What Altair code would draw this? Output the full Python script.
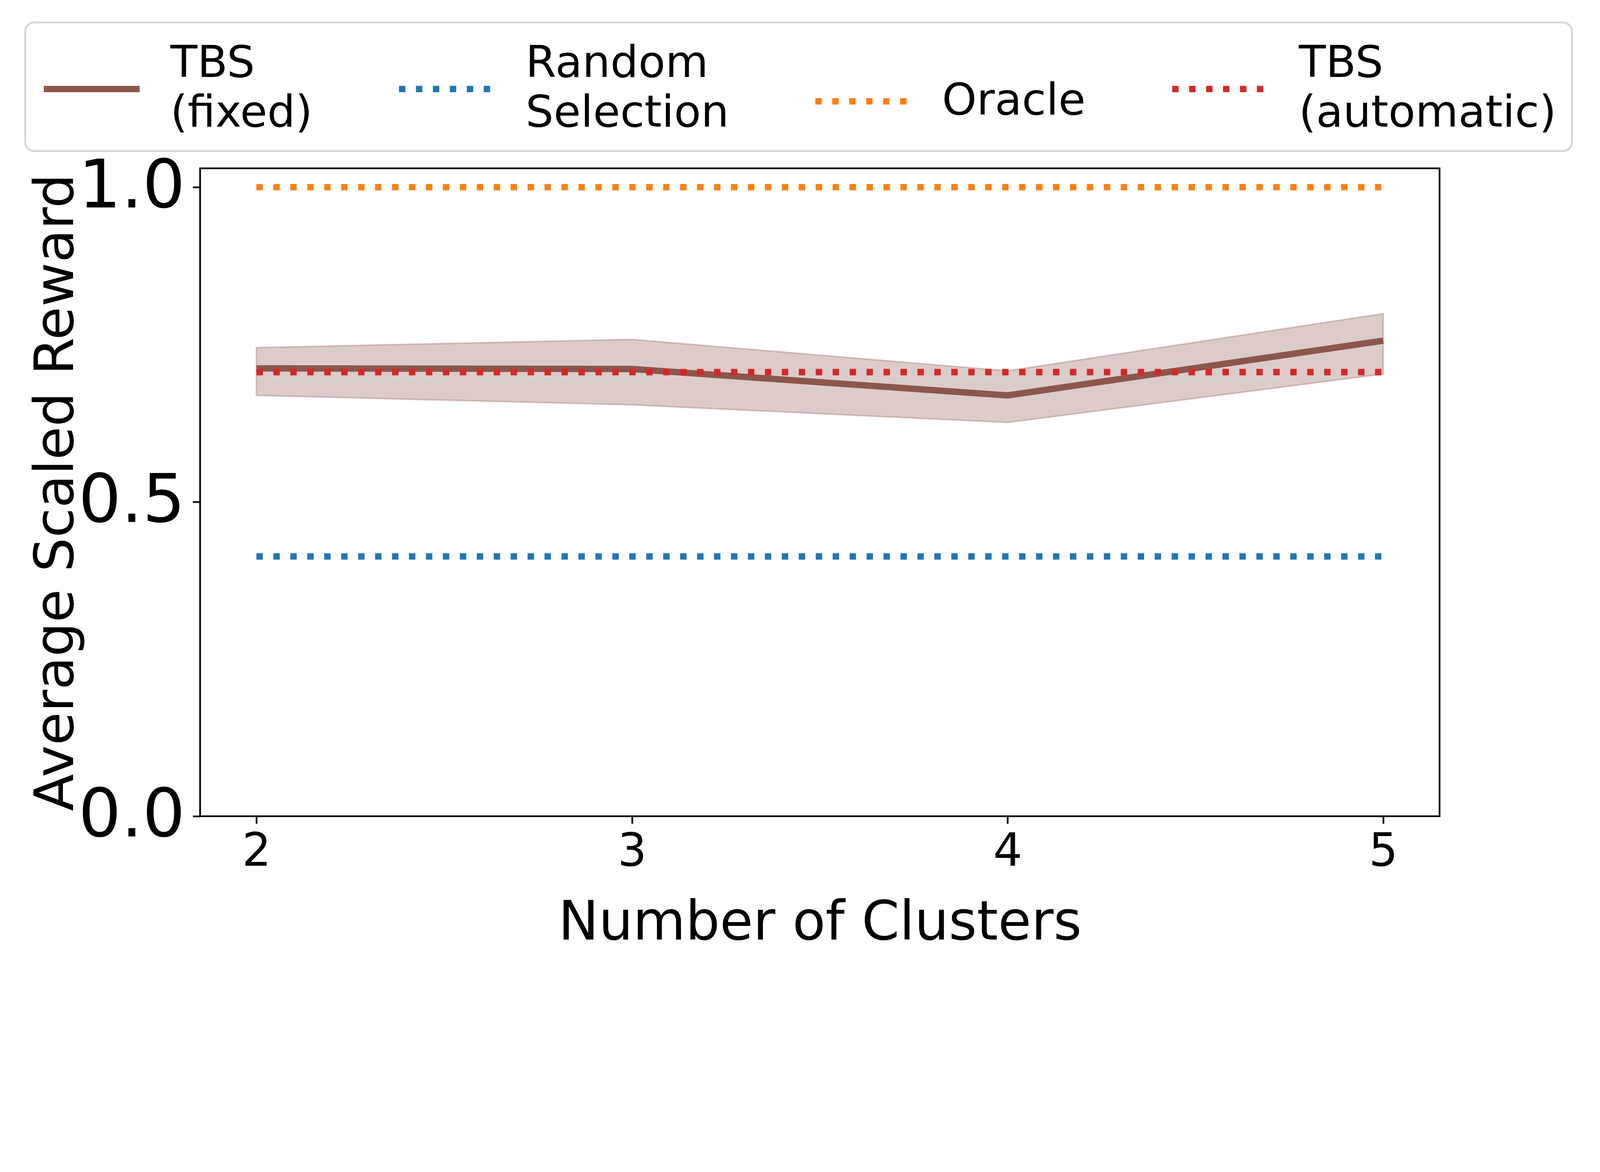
import altair as alt
import pandas as pd

# ---- data ----
clusters = [2, 3, 4, 5]
tbs_fixed_mean = [0.712, 0.711, 0.669, 0.756]
tbs_fixed_lower = [0.669, 0.654, 0.626, 0.703]
tbs_fixed_upper = [0.745, 0.758, 0.708, 0.799]
random_selection = 0.413
oracle = 1.0
tbs_automatic = 0.706

series_names = ["TBS\n(fixed)", "Random\nSelection", "Oracle", "TBS\n(automatic)"]
series_colors = ["#8c564b", "#1f77b4", "#ff7f0e", "#d62728"]
series_dash = [[1, 0], [20, 33], [20, 33], [20, 33]]

x_ticks = [2, 3, 4, 5]
y_ticks = [0.0, 0.5, 1.0]

# ---- tables ----
rows = []
for x, m in zip(clusters, tbs_fixed_mean):
    rows.append({"series": series_names[0], "x": x, "y": m})
for name, val in zip(series_names[1:], [random_selection, oracle, tbs_automatic]):
    rows.append({"series": name, "x": clusters[0], "y": val})
    rows.append({"series": name, "x": clusters[-1], "y": val})
lines_df = pd.DataFrame(rows)
lines_df["order"] = lines_df["series"].map({n: i for i, n in enumerate(series_names)})

band_df = pd.DataFrame({"x": clusters, "lo": tbs_fixed_lower, "hi": tbs_fixed_upper})

xscale = alt.Scale(domain=[1.85, 5.15], nice=False, zero=False)
yscale = alt.Scale(domain=[0, 1.03], nice=False, zero=False)

x_axis = alt.Axis(values=x_ticks, format="d", title="Number of Clusters",
                  labelFontSize=143, labelPadding=18, titleY=385,
                  titleBaseline="alphabetic", labelLimit=1000)
y_axis = alt.Axis(values=y_ticks, format=".1f", title="Average Scaled Reward",
                  labelFontSize=210, labelPadding=24, titleX=-398, titleY=1013,
                  titleAngle=270, titleBaseline="alphabetic", titleAlign="center",
                  labelLimit=1000)

legend = alt.Legend(
    title=None, orient="none", legendX=-547, legendY=-456,
    direction="horizontal", columns=4,
    labelExpr="split(datum.label, '\\n')",
    labelBaseline={"expr": "indexof(datum.label, '\\n') >= 0 ? 'line-bottom' : 'middle'"},
    labelFontSize=138, labelLimit=3000, labelOffset=86, columnPadding=230,
    symbolType="stroke", symbolSize=90000, symbolStrokeWidth=20,
    fillColor="white", cornerRadius=28,
)

band = alt.Chart(band_df).mark_area(
    fill="#8c564b", fillOpacity=0.3, stroke="#8c564b", strokeOpacity=0.3, strokeWidth=5
).encode(
    x=alt.X("x:Q", scale=xscale, axis=x_axis),
    y=alt.Y("lo:Q", scale=yscale, axis=y_axis),
    y2="hi:Q",
)

lines = alt.Chart(lines_df).mark_line(strokeWidth=20, strokeCap="butt").encode(
    x=alt.X("x:Q", scale=xscale),
    y=alt.Y("y:Q", scale=yscale),
    color=alt.Color("series:N", scale=alt.Scale(domain=series_names, range=series_colors),
                    legend=legend),
    strokeDash=alt.StrokeDash("series:N", scale=alt.Scale(domain=series_names, range=series_dash),
                              legend=legend),
    order="order:Q",
)

chart = alt.layer(band, lines).properties(
    width=3876, height=2026,
    padding={"left": 616, "top": 246, "right": 492, "bottom": 170},
    autosize=alt.AutoSizeParams(type="none"),
).configure(
    font="DejaVu Sans",
    background="white",
    style={"guide-label": {"lineHeight": 156}},
).configure_view(
    stroke="black", strokeWidth=5.3,
).configure_axis(
    grid=False, domain=False, tickSize=23, tickWidth=5.3, tickColor="black",
    labelColor="black", titleColor="black", labelFont="DejaVu Sans",
    titleFont="DejaVu Sans", titleFontSize=169, titleFontWeight="normal",
).configure_legend(
    labelFont="DejaVu Sans", labelColor="black",
    padding=48, strokeColor="#d6d6d6", strokeWidth=6,
)

chart.save("out.html", embed_options={"renderer": "svg", "actions": False})
